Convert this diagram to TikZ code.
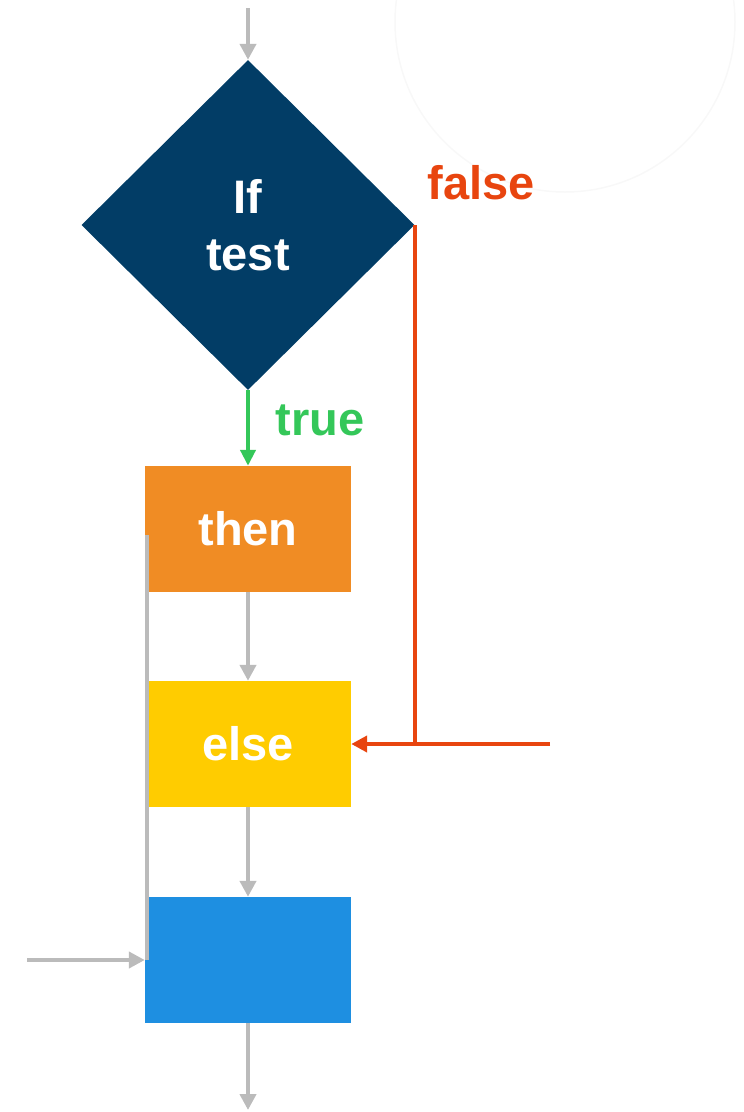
\documentclass[tikz,border=0pt]{standalone}
\usepackage{fontspec}
\setmainfont{Liberation Sans}
\usetikzlibrary{shapes.geometric,arrows.meta}
\definecolor{navy}{HTML}{023D66}
\definecolor{thenorange}{HTML}{F08C24}
\definecolor{elseyellow}{HTML}{FFCC00}
\definecolor{nextblue}{HTML}{1E8FE1}
\definecolor{falsered}{HTML}{E8450F}
\definecolor{truegreen}{HTML}{34C759}
\definecolor{flowgray}{HTML}{BBBBBB}
\definecolor{ghostgray}{HTML}{F8F8F8}
\newcommand{\bigtext}{\fontsize{47}{57}\selectfont\bfseries}
\begin{document}
\begin{tikzpicture}[x=1pt, y=-1pt,
    every node/.style={font=\bigtext, inner sep=0pt},
    block/.style={rectangle, minimum width=206pt, minimum height=126pt, text=white},
    flow/.style={draw=flowgray, line width=4.7pt, -{Triangle[length=16pt,width=16pt]}},
    flowline/.style={draw=flowgray, line width=4.7pt}]
    \useasboundingbox (0,0) rectangle (744,1112);
    \draw[ghostgray, line width=1.5pt] (565,22) circle (170);
    \node[diamond, fill=navy, text=white, align=center, minimum width=333pt, minimum height=330pt] (test) at (248,225) {If\\test};
    \node[block, fill=thenorange] (then) at (248,529) {then};
    \node[block, fill=elseyellow] (else) at (248,744) {else};
    \node[block, fill=nextblue] (next) at (248,960) {};
    \node[text=falsered] (false) at (481,183) {false};
    \node[text=truegreen] (true) at (320,420) {true};
    \coordinate (in) at (248,8);
    \coordinate (out) at (248,1110);
    \coordinate (side) at (27,960);
    \coordinate (loop) at (147,535);
    \coordinate (falsein) at (550,744);
    \foreach \i/\j in {in/test.north, then.south/else.north, else.south/next.north, next.south/out}
        \draw[flow] (\i) -- (\j);
    \draw[flowline] (loop) -- (loop |- next.west);
    \draw[flow] (side) -- (next.west);
    \draw[truegreen, line width=4pt, -{Triangle[length=16pt,width=15pt]}] (test.south) -- (then.north);
    \draw[falsered, line width=4.3pt] (test.east) -- (test.east |- else.east);
    \draw[falsered, line width=4.3pt, -{Triangle[length=16pt,width=16pt]}] (falsein) -- (else.east);
\end{tikzpicture}
\end{document}
